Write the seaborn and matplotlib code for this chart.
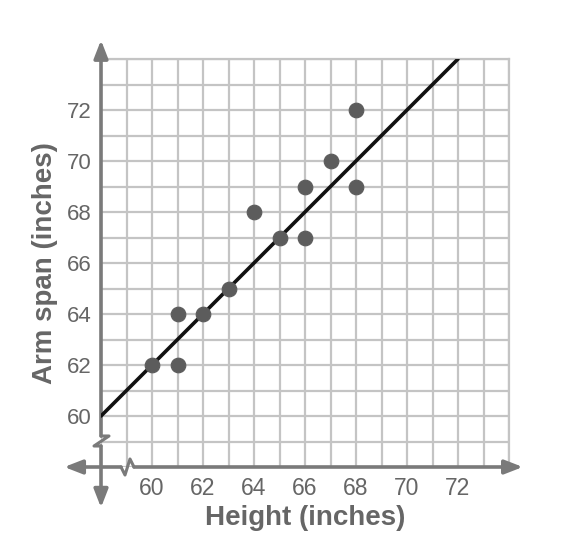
import matplotlib
matplotlib.use("Agg")
import matplotlib.pyplot as plt
import seaborn as sns
import pandas as pd
import numpy as np

# Data
height = [60, 61, 61, 62, 63, 64, 65, 66, 66, 67, 68, 68]
arm_span = [62, 64, 62, 64, 65, 68, 67, 69, 67, 70, 72, 69]
line_x = [58, 72]
line_y = [60, 74]
x_ticks = [60, 62, 64, 66, 68, 70, 72]
y_ticks = [60, 62, 64, 66, 68, 70, 72]
x_label = "Height (inches)"
y_label = "Arm span (inches)"

sns.set_theme(style="white")
plt.rcParams['font.family'] = ['Liberation Sans', 'DejaVu Sans']

fig = plt.figure(figsize=(5.7, 5.5), dpi=100)
ax = fig.add_axes([101/570, 83/550, 408/570, 408/550])
ax.set_xlim(58, 74)
ax.set_ylim(58, 74)

grid_c = "#c4c4c4"
axis_c = "#7a7a7a"
text_c = "#666666"

ax.set_xticks(x_ticks)
ax.set_yticks(y_ticks)
ax.set_xticks(np.arange(58, 75, 1), minor=True)
ax.set_yticks(np.arange(58, 75, 1), minor=True)
ax.grid(which="both", color=grid_c, linewidth=1.6)
ax.tick_params(which="both", length=0)
ax.tick_params(axis="x", pad=7, labelsize=16.5, labelcolor=text_c)
ax.tick_params(axis="y", pad=7, labelsize=16, labelcolor=text_c)
for s in ["left", "bottom"]:
    ax.spines[s].set_visible(False)
for s in ["top", "right"]:
    ax.spines[s].set_color(grid_c)
    ax.spines[s].set_linewidth(1.6)

def px2d(px, py):
    return 58 + (px - 101) / 25.5, 58 + (467 - py) / 25.5

# axis lines with break symbols
lw = 2.6
xa, ya = px2d(101, 436)
ax.plot([58, 58], [74.2, ya], color=axis_c, lw=lw, clip_on=False, zorder=4)
zz = [px2d(101, 436), px2d(109, 436), px2d(94, 446), px2d(101, 446)]
ax.plot([p[0] for p in zz], [p[1] for p in zz], color=axis_c, lw=2.2, clip_on=False, zorder=4)
xb, yb = px2d(101, 446)
ax.plot([58, 58], [yb, 56.7], color=axis_c, lw=lw, clip_on=False, zorder=4)
ax.annotate("", xy=(58, 74.85), xytext=(58, 74.0), annotation_clip=False,
            arrowprops=dict(arrowstyle="-|>,head_length=0.9,head_width=0.35", color=axis_c, lw=lw), zorder=5)
ax.annotate("", xy=(58, 56.3), xytext=(58, 57.2), annotation_clip=False,
            arrowprops=dict(arrowstyle="-|>,head_length=0.9,head_width=0.35", color=axis_c, lw=lw), zorder=5)

xc, yc = px2d(121, 467)
ax.plot([56.9, xc], [58, 58], color=axis_c, lw=lw, clip_on=False, zorder=4)
zz2 = [px2d(121, 467), px2d(125, 475), px2d(130, 459), px2d(134, 467)]
ax.plot([p[0] for p in zz2], [p[1] for p in zz2], color=axis_c, lw=2.2, clip_on=False, zorder=4)
xd, yd = px2d(134, 467)
ax.plot([xd, 74.2], [58, 58], color=axis_c, lw=lw, clip_on=False, zorder=4)
ax.annotate("", xy=(74.65, 58), xytext=(74.0, 58), annotation_clip=False,
            arrowprops=dict(arrowstyle="-|>,head_length=0.9,head_width=0.35", color=axis_c, lw=lw), zorder=5)
ax.annotate("", xy=(56.45, 58), xytext=(57.2, 58), annotation_clip=False,
            arrowprops=dict(arrowstyle="-|>,head_length=0.9,head_width=0.35", color=axis_c, lw=lw), zorder=5)

# line of fit
sns.lineplot(x=line_x, y=line_y, ax=ax, color="#111111", linewidth=2.6, zorder=6)
# points
df = pd.DataFrame({"h": height, "a": arm_span})
sns.scatterplot(data=df, x="h", y="a", ax=ax, s=110, color="#5c5c5c", edgecolor="#5c5c5c", zorder=7, clip_on=False)

ax.set_xlabel(x_label, fontsize=20, fontweight="bold", color=text_c, labelpad=4)
ax.set_ylabel(y_label, fontsize=20, fontweight="bold", color=text_c, labelpad=6)

fig.savefig("out.png", dpi=100)
